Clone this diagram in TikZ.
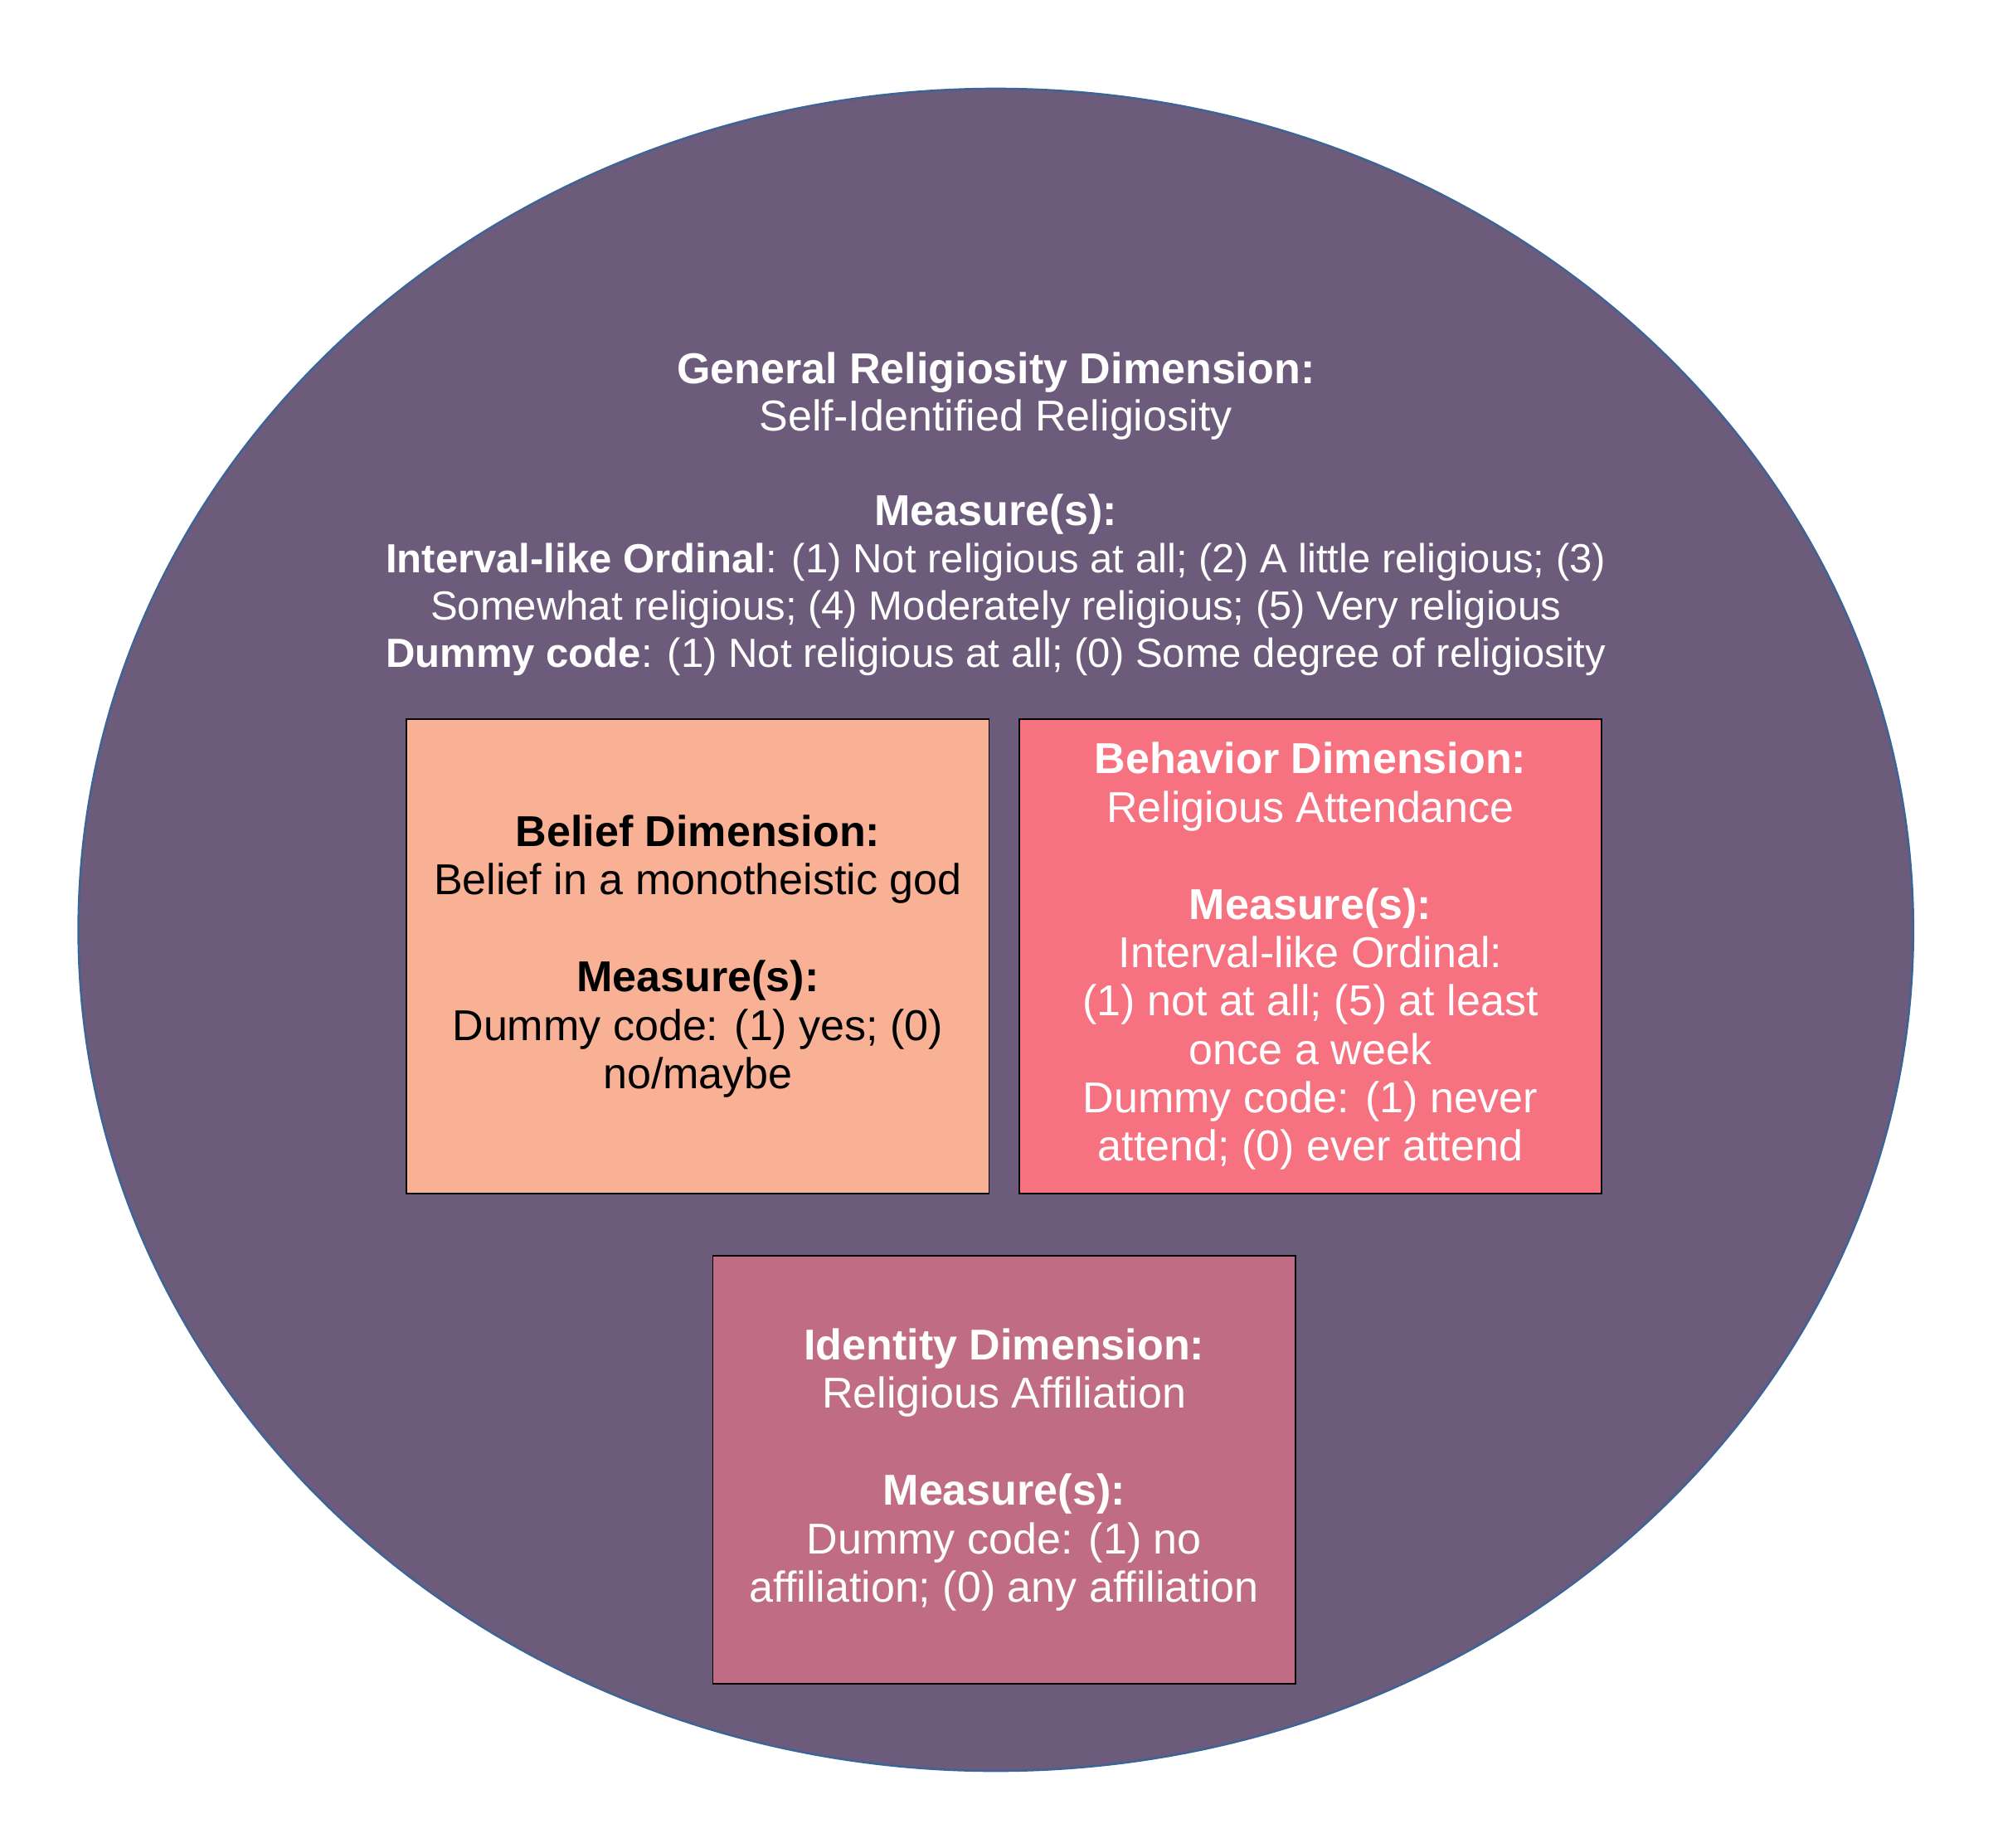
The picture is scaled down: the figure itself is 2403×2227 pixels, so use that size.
\documentclass[tikz,border=0pt]{standalone}
\usepackage{fontspec}
\setmainfont{Liberation Sans}
\usetikzlibrary{positioning,shapes.geometric}
\definecolor{plum}{HTML}{6C5B7B}
\definecolor{peach}{HTML}{F8B195}
\definecolor{coral}{HTML}{F67280}
\definecolor{rose}{HTML}{C06C84}
\definecolor{rim}{HTML}{3D6496}
\newcommand{\Dhead}[1]{\textbf{#1}}
\newcommand{\Bigline}[1]{{\fontsize{14.8}{16.2}\selectfont #1}}

\begin{document}
\begin{tikzpicture}[x=0.01cm,y=-0.01cm,
  txt/.style={align=center,inner sep=0pt,font=\fontsize{13.95}{16.2}\selectfont},
  dimbox/.style={align=center,inner sep=0pt,font=\fontsize{14.8}{16.6}\selectfont,rectangle,draw=black,line width=0.5pt,minimum width=7.02cm,minimum height=5.72cm}]
\useasboundingbox (0,0) rectangle (2403,2227);
% \draw[help lines] (0,0) grid (2403,2227);
\node (outer) [ellipse,draw=rim,fill=plum,line width=0.7pt,minimum width=22.11cm,minimum height=20.27cm] at (1200.7,1121) {};
\node (general) [txt,text=white] at (1200.7,620) {\Bigline{\Dhead{General Religiosity Dimension:}}\\
  \Bigline{Self-Identified Religiosity}\\[16.2pt]
  \Bigline{\Dhead{Measure(s):}}\\
  \Dhead{Interval-like Ordinal}: (1) Not religious at all; (2) A little religious; (3)\\
  Somewhat religious; (4) Moderately religious; (5) Very religious\\
  \Dhead{Dummy code}: (1) Not religious at all; (0) Some degree of religiosity};
%
\node (belief) [dimbox,fill=peach,text=black] at (841.4,1153) {\Dhead{Belief Dimension:}\\
  Belief in a monotheistic god\\[16.6pt]
  \Dhead{Measure(s):}\\
  Dummy code: (1) yes; (0)\\
  no/maybe};
\node (behavior) [dimbox,fill=coral,text=white] at (1580,1153) {\Dhead{Behavior Dimension:}\\
  Religious Attendance\\[16.6pt]
  \Dhead{Measure(s):}\\
  Interval-like Ordinal:\\
  (1) not at all; (5) at least\\
  once a week\\
  Dummy code: (1) never\\
  attend; (0) ever attend};
\node (identity) [dimbox,fill=rose,text=white,minimum height=5.15cm] at (1210.7,1772) {\Dhead{Identity Dimension:}\\
  Religious Affiliation\\[16.6pt]
  \Dhead{Measure(s):}\\
  Dummy code: (1) no\\
  affiliation; (0) any affiliation};
\end{tikzpicture}
\end{document}
